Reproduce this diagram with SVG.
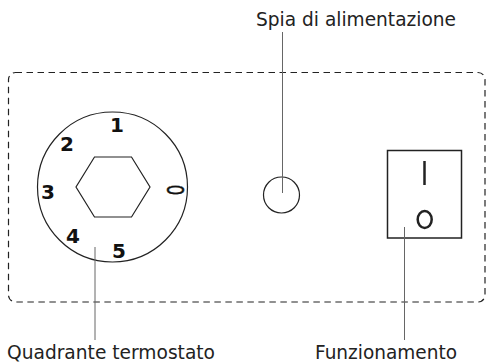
<svg xmlns="http://www.w3.org/2000/svg" width="489" height="362" viewBox="0 0 489 362">
<style>
.s{fill:none;stroke:#222;stroke-width:1.2}
.c{fill:none;stroke:#666;stroke-width:1}
.l{font-family:"DejaVu Sans",Tahoma,sans-serif;font-size:20px;fill:#222}
.n{font-family:"DejaVu Sans",Verdana,sans-serif;font-size:20px;font-weight:bold;fill:#111}
</style>
<rect width="489" height="362" fill="#fff"/>
<g id="panel"><rect x="8.500" y="72.500" width="476.500" height="229.500" rx="7" class="s" stroke-dasharray="6.500 4.500"/></g>
<g id="dial">
<circle cx="112.500" cy="187" r="75" class="s"/>
<polygon points="94.500,157 131.500,157 150,187 131.500,217 94.500,217 76,187" class="s"/>
<text class="n" x="117" y="132" text-anchor="middle">1</text>
<text class="n" x="67" y="151" text-anchor="middle">2</text>
<text class="n" x="48" y="199" text-anchor="middle">3</text>
<text class="n" x="73" y="243" text-anchor="middle">4</text>
<text class="n" x="119" y="258" text-anchor="middle">5</text>
<text x="0" y="0" text-anchor="middle" textLength="11" lengthAdjust="spacingAndGlyphs" transform="translate(166.500 190) rotate(90)" style="font-family:'DejaVu Sans',sans-serif;font-size:23px;fill:#111;stroke:#111;stroke-width:.5">0</text>
</g>
<g id="lamp"><circle cx="281.500" cy="195" r="18" class="s"/></g>
<g id="switch">
<rect x="387.500" y="150.500" width="74" height="87.500" fill="none" stroke="#222" stroke-width="1.500"/>
<path d="M424.500 161V185" fill="none" stroke="#222" stroke-width="2.500"/>
<ellipse cx="424.700" cy="219.500" rx="7" ry="8.500" fill="none" stroke="#222" stroke-width="2.500"/>
</g>
<g id="connectors">
<path class="c" d="M95 247V340"/>
<path class="c" d="M282.500 32V193"/>
<path class="c" d="M404.500 227V340"/>
</g>
<g id="labels">
<text class="l" x="256" y="26" textLength="200" lengthAdjust="spacingAndGlyphs">Spia di alimentazione</text>
<text class="l" x="7" y="358.500" textLength="208" lengthAdjust="spacingAndGlyphs">Quadrante termostato</text>
<text class="l" x="315" y="358.500" textLength="142" lengthAdjust="spacingAndGlyphs">Funzionamento</text>
</g>
</svg>
